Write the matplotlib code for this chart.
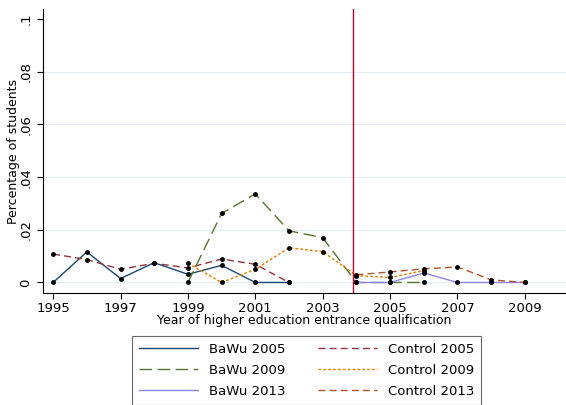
import matplotlib.pyplot as plt

# Werte
jahre_a = [1995, 1996, 1997, 1998, 1999, 2000, 2001, 2002]
bawu_2005 = [0, 0.0116, 0.0015, 0.0075, 0.0031, 0.0065, 0, 0]
control_2005 = [0.0108, 0.0087, 0.005, 0.0073, 0.0055, 0.0089, 0.0069, 0]

jahre_b = [1999, 2000, 2001, 2002, 2003, 2004, 2005, 2006]
bawu_2009 = [0, 0.0262, 0.0336, 0.0196, 0.017, 0, 0, 0]
control_2009 = [0.0073, 0, 0.005, 0.0132, 0.0117, 0.0026, 0.0019, 0.0045]

jahre_c = [2004, 2005, 2006, 2007, 2008, 2009]
bawu_2013 = [0, 0, 0.0036, 0, 0, 0]
control_2013 = [0.0029, 0.004, 0.0052, 0.0059, 0.001, 0]

reform_jahr = 2003.9
y_ticks = [0, 0.02, 0.04, 0.06, 0.08, 0.1]
y_labels = ['0', '.02', '.04', '.06', '.08', '.1']
x_ticks = [1995, 1997, 1999, 2001, 2003, 2005, 2007, 2009]

fig = plt.figure(figsize=(5.66, 4.05), dpi=100)
ax = fig.add_axes([0.076, 0.2765, 0.924, 0.7013])

for y in y_ticks[:-1]:
    ax.axhline(y, color='#e6eff1', lw=0.9, zorder=0)

serien = [
    (jahre_a, bawu_2005, 'BaWu 2005', '#1a476f', '-'),
    (jahre_a, control_2005, 'Control 2005', '#90353b', (0, (5, 3))),
    (jahre_b, bawu_2009, 'BaWu 2009', '#55752f', (0, (9, 4))),
    (jahre_b, control_2009, 'Control 2009', '#e37e00', (0, (2, 1.5))),
    (jahre_c, bawu_2013, 'BaWu 2013', '#8f86e6', '-'),
    (jahre_c, control_2013, 'Control 2013', '#b0552a', (0, (5, 3))),
]
handles = {}
for x, y, name, farbe, stil in serien:
    h, = ax.plot(x, y, color=farbe, ls=stil, lw=1.0, label=name)
    ax.plot(x, y, ls='none', marker='o', ms=2.5, color='black')
    handles[name] = h

ax.axvline(reform_jahr, color='#c10534', lw=1.0)

ax.set_xlim(1994.7, 2010.22)
ax.set_ylim(-0.004, 0.1038)
ax.set_xticks(x_ticks)
ax.set_yticks(y_ticks)
ax.set_yticklabels(y_labels, rotation=90, va='center')
ax.tick_params(labelsize=9.5, length=4, width=0.8)
ax.tick_params(axis='x', pad=2.5)
ax.spines['top'].set_visible(False)
ax.spines['right'].set_visible(False)
ax.set_xlabel('Year of higher education entrance qualification', fontsize=9, labelpad=-1)
ax.set_ylabel('Percentage of students', fontsize=9, labelpad=0)

reihenfolge = ['BaWu 2005', 'BaWu 2009', 'BaWu 2013',
               'Control 2005', 'Control 2009', 'Control 2013']
leg = fig.legend([handles[n] for n in reihenfolge], reihenfolge, ncol=2,
                 loc='lower center', bbox_to_anchor=(0.5415, -0.0155),
                 fontsize=9.5, frameon=True, fancybox=False, edgecolor='#444444',
                 handlelength=4.5, columnspacing=2.5, labelspacing=0.62,
                 borderpad=0.5)
leg.get_frame().set_linewidth(0.8)

fig.savefig('out.png', dpi=100)
